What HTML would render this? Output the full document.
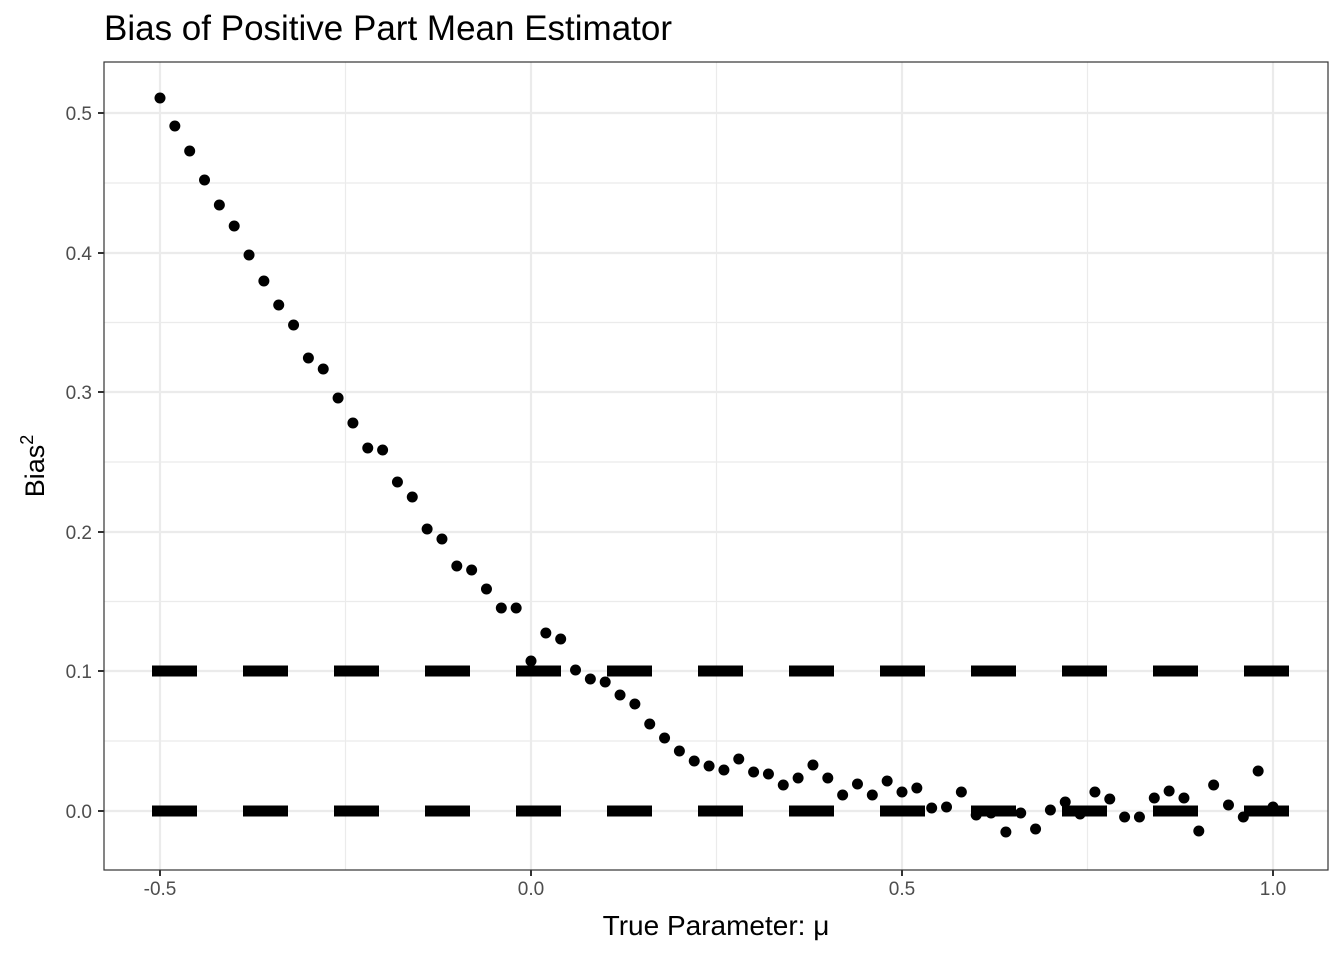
<!DOCTYPE html>
<html><head><meta charset="utf-8"><style>
body{margin:0;background:#fff;}
svg text{font-family:"Liberation Sans",Arial,sans-serif;}
</style></head><body>
<svg width="1344" height="960" xmlns="http://www.w3.org/2000/svg">
<rect width="1344" height="960" fill="#fff"/>
<g stroke="#ebebeb" stroke-width="1.2">
<line x1="345.5" y1="62" x2="345.5" y2="870"/><line x1="716.5" y1="62" x2="716.5" y2="870"/><line x1="1087.5" y1="62" x2="1087.5" y2="870"/>
<line x1="104" y1="183" x2="1328" y2="183"/><line x1="104" y1="322.5" x2="1328" y2="322.5"/><line x1="104" y1="462" x2="1328" y2="462"/><line x1="104" y1="601.5" x2="1328" y2="601.5"/><line x1="104" y1="741" x2="1328" y2="741"/>
</g>
<g stroke="#ebebeb" stroke-width="2.2">
<line x1="160" y1="62" x2="160" y2="870"/><line x1="531" y1="62" x2="531" y2="870"/><line x1="902" y1="62" x2="902" y2="870"/><line x1="1273" y1="62" x2="1273" y2="870"/>
<line x1="104" y1="113" x2="1328" y2="113"/><line x1="104" y1="253" x2="1328" y2="253"/><line x1="104" y1="392" x2="1328" y2="392"/><line x1="104" y1="532" x2="1328" y2="532"/><line x1="104" y1="671" x2="1328" y2="671"/><line x1="104" y1="811" x2="1328" y2="811"/>
</g>
<g stroke="#000" stroke-width="11" stroke-dasharray="45,46">
<line x1="152" y1="671" x2="1291" y2="671"/><line x1="152" y1="811" x2="1291" y2="811"/>
</g>
<g fill="#000" id="pts"></g>
<rect x="104" y="62" width="1224" height="808" fill="none" stroke="#333" stroke-width="1.2"/>
<g stroke="#333" stroke-width="2">
<line x1="98" y1="113" x2="104" y2="113"/><line x1="98" y1="253" x2="104" y2="253"/><line x1="98" y1="392" x2="104" y2="392"/><line x1="98" y1="532" x2="104" y2="532"/><line x1="98" y1="671" x2="104" y2="671"/><line x1="98" y1="811" x2="104" y2="811"/>
<line x1="160" y1="870" x2="160" y2="876"/><line x1="531" y1="870" x2="531" y2="876"/><line x1="902" y1="870" x2="902" y2="876"/><line x1="1273" y1="870" x2="1273" y2="876"/>
</g>
<g fill="#4d4d4d" font-size="19" text-anchor="end">
<text x="92" y="120">0.5</text><text x="92" y="260">0.4</text><text x="92" y="399">0.3</text><text x="92" y="539">0.2</text><text x="92" y="678">0.1</text><text x="92" y="818">0.0</text>
</g>
<g fill="#4d4d4d" font-size="19" text-anchor="middle">
<text x="160" y="895">-0.5</text><text x="531" y="895">0.0</text><text x="902" y="895">0.5</text><text x="1273" y="895">1.0</text>
</g>
<text x="716" y="935" font-size="28" text-anchor="middle">True Parameter: μ</text>
<text transform="translate(44,466) rotate(-90)" font-size="27" text-anchor="middle">Bias<tspan dy="-11" font-size="18">2</tspan></text>
<text x="104" y="40" font-size="35">Bias of Positive Part Mean Estimator</text>
</svg>
<script>
var ys=[98,126,151,180,205,226,255,281,305,325,358,369,398,423,448,450,482,497,529,539,566,570,589,608,608,661,633,639,670,679,682,695,704,724,738,751,761,766,770,759,772,774,785,778,765,778,795,784,795,781,792,788,808,807,792,815,813,832,813,829,810,802,814,792,799,817,817,798,791,798,831,785,805,817,771,807];
var g=document.getElementById('pts'),s='';
for(var i=0;i<ys.length;i++){var x=160+i*0.02*742;s+='<circle cx="'+x+'" cy="'+ys[i]+'" r="5.5"/>';}
g.innerHTML=s;
</script>
</body></html>
